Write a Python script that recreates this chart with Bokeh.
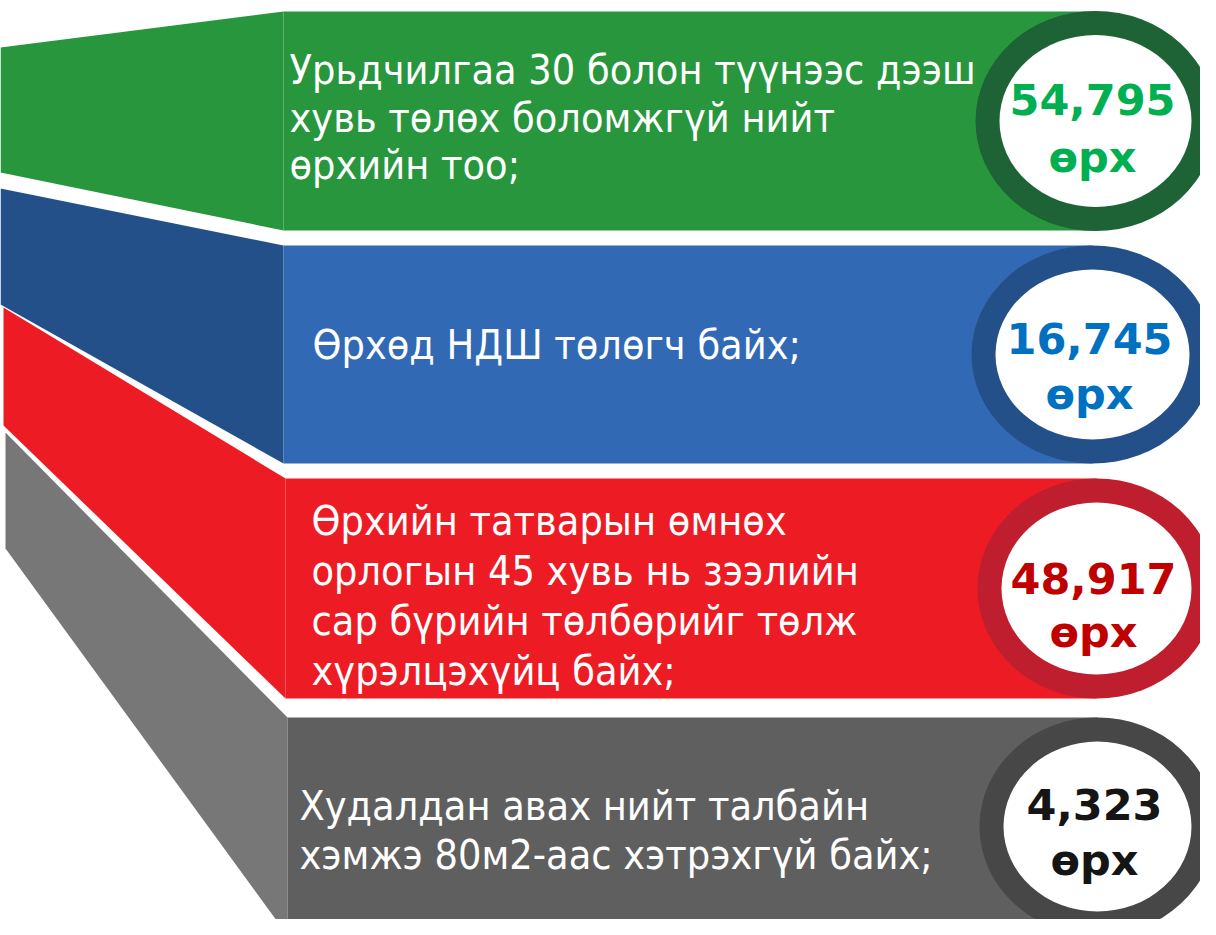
from bokeh.plotting import figure
from bokeh.models import Range1d
from bokeh.core.properties import value
from bokeh.embed import file_html
from bokeh.resources import INLINE

# ---------------- data ----------------
labels = [
    ["Урьдчилгаа 30 болон түүнээс дээш", "хувь төлөх боломжгүй нийт", "өрхийн тоо;"],
    ["Өрхөд НДШ төлөгч байх;"],
    ["Өрхийн татварын өмнөх", "орлогын 45 хувь нь зээлийн", "сар бүрийн төлбөрийг төлж", "хүрэлцэхүйц байх;"],
    ["Худалдан авах нийт талбайн", "хэмжэ 80м2-аас хэтрэхгүй байх;"],
]
values = [54795, 16745, 48917, 4323]
unit = "өрх"

# ---------------- styles ----------------
rect_colors = ["#27963C", "#3169B5", "#ED1C24", "#5F5F5F"]
funnel_colors = ["#27963C", "#245089", "#ED1C24", "#777777"]
ring_colors = ["#1E6336", "#245089", "#BE1E2D", "#474747"]
num_colors = ["#00B050", "#0070C0", "#C00000", "#151515"]

# ---------------- layout (reference pixel space) ----------------
band_top = [11, 245, 478, 717]
band_bottom = [230, 463, 698, 935]
rect_left = [283, 283, 285, 287]
funnel_left = [0, 0, 3, 5]
funnel_top_left = [47, 188, 307, 432]
funnel_bot_left = [172, 304, 425, 548]
circle_cx = [1095, 1092, 1096, 1097]
circle_w = [240, 242, 238, 236]
circle_h = [220, 218, 220, 218]
ring = 24
text_x = [289, 312, 311, 299]
text_y0 = [83, 358, 534, 819]
line_gap = [47.5, 0, 50, 49]
body_size = [41, 41, 41, 41]
num_y = [113, 352, 592, 818]
unit_y = [170, 407, 645, 873]
num_size = 43
BASE_SHIFT = 0.32  # em, alphabetic baseline correction

BODY_FONT = value("DejaVu Sans Condensed, DejaVu Sans")
NUM_FONT = value("DejaVu Sans")

p = figure(width=1200, height=919, output_backend="svg", toolbar_location=None,
           x_range=Range1d(0, 1200), y_range=Range1d(919, 0),
           min_border=0, background_fill_color="white", border_fill_color="white")
p.axis.visible = False
p.grid.visible = False
p.outline_line_color = None

for i in range(len(values)):
    top, bot = band_top[i], band_bottom[i]
    cy = (top + bot) / 2
    # funnel (left trapezoid)
    p.patch([funnel_left[i], rect_left[i], rect_left[i], funnel_left[i]],
            [funnel_top_left[i], top, bot, funnel_bot_left[i]],
            fill_color=funnel_colors[i], line_color=None)
    # band rectangle
    p.quad(left=rect_left[i], right=circle_cx[i], top=top, bottom=bot,
           fill_color=rect_colors[i], line_color=None)
    # ring circle
    p.ellipse(x=circle_cx[i], y=cy, width=circle_w[i], height=circle_h[i],
              fill_color=ring_colors[i], line_color=None)
    p.ellipse(x=circle_cx[i], y=cy, width=circle_w[i] - 2 * ring, height=circle_h[i] - 2 * ring,
              fill_color="white", line_color=None)
    # label lines
    lines = labels[i]
    fs = body_size[i]
    p.text(x=[text_x[i]] * len(lines),
           y=[text_y0[i] + k * line_gap[i] - BASE_SHIFT * fs for k in range(len(lines))],
           text=lines, text_font=BODY_FONT, text_font_size=f"{fs}px", text_color="white",
           text_align="left", text_baseline="alphabetic")
    # value
    p.text(x=[circle_cx[i] - 3, circle_cx[i] - 3],
           y=[num_y[i] - BASE_SHIFT * num_size, unit_y[i] - BASE_SHIFT * num_size],
           text=[f"{values[i]:,}", unit], text_font=NUM_FONT,
           text_font_size=f"{num_size}px", text_font_style="bold", text_color=num_colors[i],
           text_align="center", text_baseline="alphabetic")

open("out.html", "w").write(file_html(p, INLINE))
